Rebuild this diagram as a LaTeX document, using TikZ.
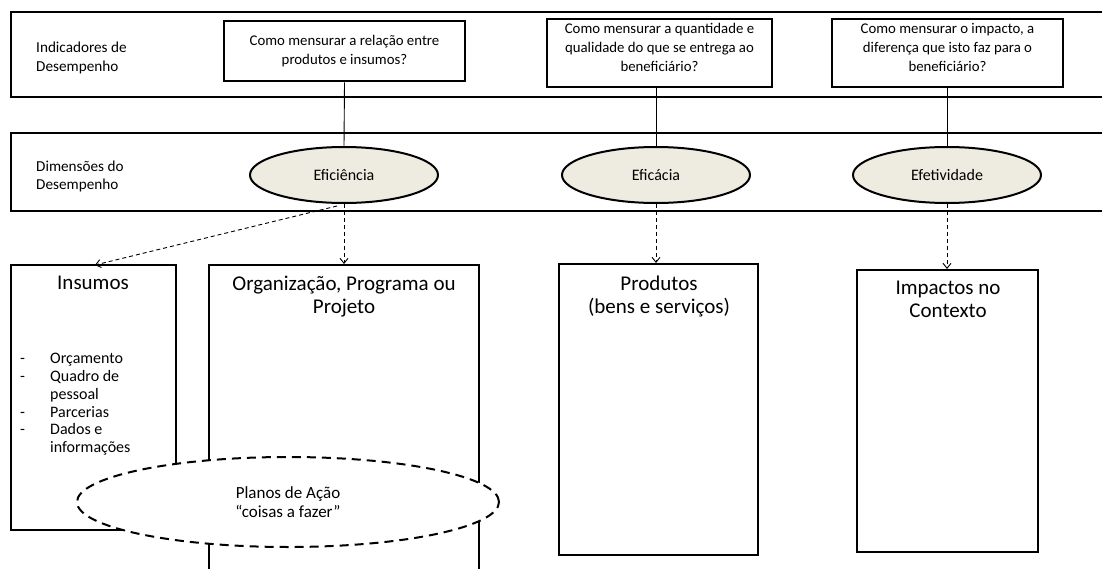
\documentclass[tikz,border=0pt]{standalone}
\usepackage{fontspec}
\setmainfont{Carlito}
\usetikzlibrary{arrows.meta,shapes.geometric}
\definecolor{dimfill}{HTML}{EEECE1}
\tikzset{
  band/.style={draw, line width=1.6pt},
  qbox/.style={draw, line width=2pt, align=center, inner sep=0pt,
    font=\fontsize{14.8}{19}\selectfont},
  sidelabel/.style={anchor=west, align=left, inner sep=0pt,
    font=\fontsize{15.2}{19}\selectfont},
  dimell/.style={draw, ellipse, fill=dimfill, line width=2pt, inner sep=0pt,
    minimum width=188pt, minimum height=56pt, font=\fontsize{16}{18}\selectfont},
  link/.style={draw, line width=0.9pt},
  flow/.style={draw, line width=0.9pt, dashed, dash pattern=on 4pt off 3pt,
    -{Straight Barb[length=5pt,width=8pt,line width=0.9pt]}},
  block/.style={draw, line width=2pt, inner sep=0pt},
  btitle/.style={align=center, inner sep=0pt, anchor=north,
    font=\fontsize{21}{23}\selectfont},
  plan/.style={draw, ellipse, fill=white, line width=2pt, dash pattern=on 9pt off 6pt,
    minimum width=422pt, minimum height=90pt, inner sep=0pt,
    font=\fontsize{17}{19}\selectfont, align=center},
}
\begin{document}
\begin{tikzpicture}[x=1pt,y=-1pt]
\clip (0,0) rectangle (1102,569);
\fill[white] (0,0) rectangle (1102,569);

% two horizontal bands
\draw[band] (1110,12) -- (11,12) -- (11,97) -- (1110,97);
\draw[band] (1110,133) -- (11,133) -- (11,211) -- (1110,211);

\node[sidelabel] (indlbl) at (36,58) {Indicadores de\\Desempenho};
\node[sidelabel, font=\fontsize{15.2}{17.5}\selectfont] (dimlbl) at (36,176.5)
  {Dimensões do\\Desempenho};

% indicator questions
\node[qbox, minimum width=241pt, minimum height=60pt] (q1) at (344.5,51.5)
  {Como mensurar a relação entre\\produtos e insumos?};
\node[qbox, minimum width=225pt, minimum height=68pt] (q2) at (659.5,53) {};
\node[qbox, minimum width=231pt, minimum height=68pt] (q3) at (947.5,53) {};
\node[qbox, draw=none] (q2text) at (659.5,47.5)
  {Como mensurar a quantidade e\\qualidade do que se entrega ao\\beneficiário?};
\node[qbox, draw=none] (q3text) at (947.5,47.5)
  {Como mensurar o impacto, a\\diferença que isto faz para o\\beneficiário?};

% performance dimensions
\node[dimell] (efic) at (344,175) {Eficiência};
\node[dimell] (efca) at (656,175) {Eficácia};
\node[dimell] (efet) at (947,175) {Efetividade};

\draw[link] (q1.south) -- (efic.north);
\draw[link] (q2.south -| efca.north) -- (efca.north);
\draw[link] (q3.south -| efet.north) -- (efet.north);

% lower blocks
\node[block, minimum width=165pt, minimum height=265pt] (ins) at (93.5,397.5) {};
\node[block, minimum width=270pt, minimum height=340pt] (org) at (344,435) {};
\node[block, minimum width=199pt, minimum height=291pt] (prod) at (658.5,409.5) {};
\node[block, minimum width=181pt, minimum height=282pt] (imp) at (947.5,411) {};

\node[btitle] (institle) at (93,276) {Insumos};
\node[btitle] (orgtitle) at (344,276) {Organização, Programa ou\\Projeto};
\node[btitle] (prodtitle) at (659,276) {Produtos\\(bens e serviços)};
\node[btitle] (imptitle) at (948,281) {Impactos no\\Contexto};

% input list
\node[anchor=north west, inner sep=0pt, font=\fontsize{16}{17.8}\selectfont]
  (insitems) at (20,351)
  {\begin{tabular}{@{}p{30pt}@{}l@{}}
   - & Orçamento\\
   - & Quadro de\\
     & pessoal\\
   - & Parcerias\\
   - & Dados e\\
     & informações
   \end{tabular}};

% dashed links from dimensions to blocks
\coordinate (effoot) at (337,206);
\draw[flow] (effoot) -- (95,265);
\draw[flow] (efic.south) -- (org.north);
\draw[flow] (efca.south) -- (prod.north -| efca.south);
\draw[flow] (efet.south) -- (imp.north -| efet.south);

% action plans
\node[plan] (plans) at (288,502) {Planos de Ação\\“coisas a fazer”};
\end{tikzpicture}
\end{document}
